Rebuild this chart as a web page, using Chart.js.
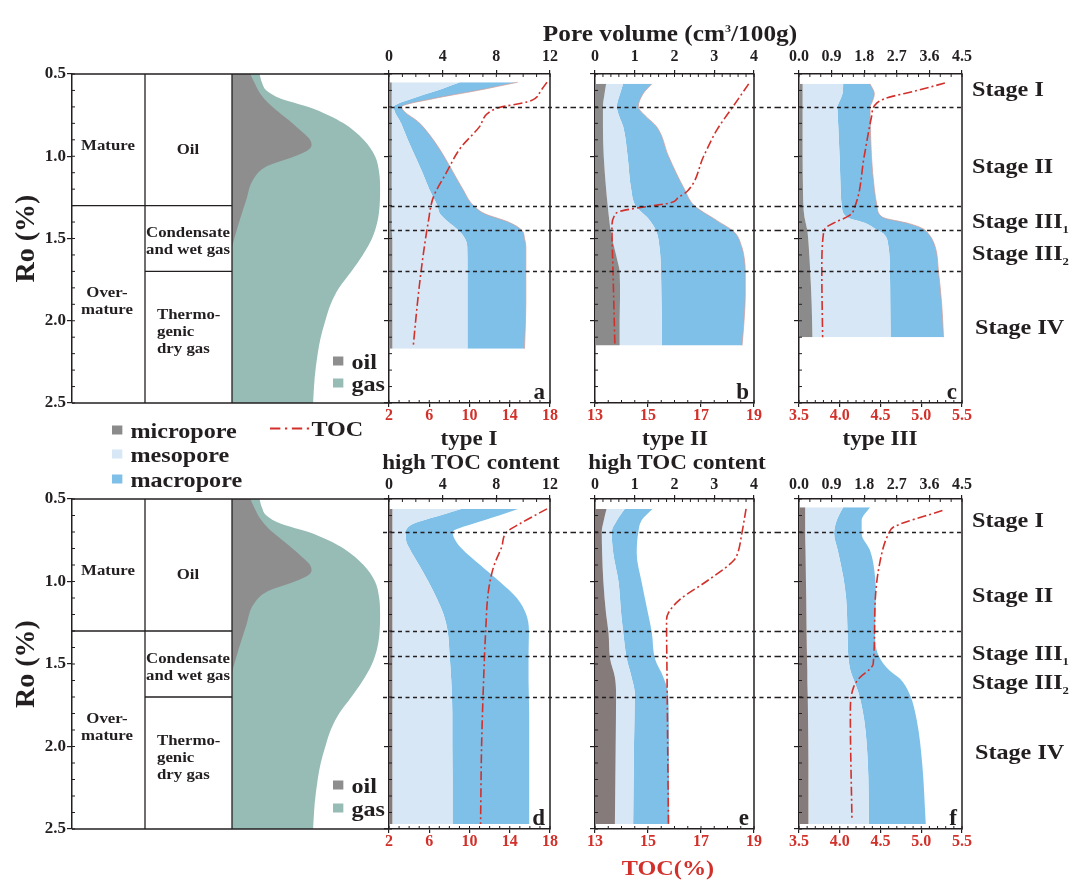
<!DOCTYPE html>
<html>
<head>
<meta charset="utf-8">
<title>Pore evolution with maturity</title>
<script src="https://cdn.jsdelivr.net/npm/chart.js@4.4.1/dist/chart.umd.min.js"></script>
<style>
  html, body { margin: 0; background: #fff; }
  #fig { position: relative; width: 1072px; height: 881px; overflow: hidden; }
  #fig canvas { position: absolute; }
  .lb { position: absolute; white-space: nowrap; color: #231f20; font: bold 21px "Liberation Serif", serif; line-height: 1;
        transform-origin: 0 50%; transform: translateY(-50%) scaleX(1.15); }
  .ct { transform-origin: 50% 50%; transform: translate(-50%, -50%) scaleX(1.1); }
  .lb sub, .lb sup { font-size: 11px; line-height: 0; }
  .sq { display: inline-block; width: 9px; height: 9px; margin-right: 7px; vertical-align: 3px; }
  .red { color: #d2302a; }
</style>
</head>
<body>
<div id="fig">
  <div class="lb ct" style="left:670px;top:33px;font-size:23px;">Pore volume (cm<sup>3</sup>/100g)</div>

  <div class="lb" style="left:112px;top:431px;"><span class="sq" style="background:#8b8b8b"></span>micropore</div>
  <div class="lb" style="left:112px;top:455px;"><span class="sq" style="background:#d8e7f5"></span>mesopore</div>
  <div class="lb" style="left:112px;top:480px;"><span class="sq" style="background:#7ec0e8"></span>macropore</div>
  <div class="lb" style="left:270px;top:429px;"><svg width="36" height="6" style="vertical-align:4px"><line x1="0" y1="3" x2="36" y2="3" stroke="#d2302a" stroke-width="2" stroke-dasharray="9 4 2 4"/></svg>TOC</div>

  <div class="lb ct" style="left:469px;top:438px;">type I</div>
  <div class="lb ct" style="left:471px;top:462px;">high TOC content</div>
  <div class="lb ct" style="left:675px;top:438px;">type II</div>
  <div class="lb ct" style="left:677px;top:462px;">high TOC content</div>
  <div class="lb ct" style="left:880px;top:438px;">type III</div>
  <div class="lb ct red" style="left:668px;top:868px;font-size:22px;">TOC(%)</div>

  <div class="lb" style="left:972px;top:89px;">Stage I</div>
  <div class="lb" style="left:972px;top:166px;">Stage II</div>
  <div class="lb" style="left:972px;top:221px;">Stage III<sub>1</sub></div>
  <div class="lb" style="left:972px;top:253px;">Stage III<sub>2</sub></div>
  <div class="lb" style="left:975px;top:327px;">Stage IV</div>

  <div class="lb" style="left:972px;top:520px;">Stage I</div>
  <div class="lb" style="left:972px;top:595px;">Stage II</div>
  <div class="lb" style="left:972px;top:653px;">Stage III<sub>1</sub></div>
  <div class="lb" style="left:972px;top:682px;">Stage III<sub>2</sub></div>
  <div class="lb" style="left:975px;top:752px;">Stage IV</div>

  <div class="lb" style="left:333px;top:362px;"><span class="sq" style="background:#8e8e8e"></span>oil</div>
  <div class="lb" style="left:333px;top:384px;"><span class="sq" style="background:#97bbb5"></span>gas</div>
  <div class="lb" style="left:333px;top:786px;"><span class="sq" style="background:#8e8e8e"></span>oil</div>
  <div class="lb" style="left:333px;top:809px;"><span class="sq" style="background:#97bbb5"></span>gas</div>
</div>

<script>
// stage boundaries (Ro %)
const stageBounds = [0.7, 1.3, 1.45, 1.7];

// hydrocarbon generation curves (relative amount)
const oilRo  = [0.5, 0.56, 0.62, 0.68, 0.72, 0.78, 0.82, 0.87, 0.9, 0.93, 0.96, 1.0, 1.06, 1.14, 1.26, 1.42, 1.55];
const oilGen = [12, 15, 18.5, 24, 29, 37, 42, 48, 51, 52, 50, 41, 23, 14, 9.5, 4, 0];
const gasRo  = [0.5, 0.55, 0.6, 0.65, 0.7, 0.75, 0.8, 0.9, 1.0, 1.1, 1.2, 1.3, 1.4, 1.5, 1.6, 1.7, 1.8, 1.9, 2.0, 2.1, 2.2, 2.35, 2.5];
const gasGen = [18, 19.5, 22.5, 32, 50, 63, 73, 86, 93.5, 96.2, 96.8, 96.5, 95, 91.5, 85.5, 78, 70, 64.5, 61, 58, 56, 54, 53];

// a: type I, high TOC content (pore volume cm3/100g, TOC %)
const roA    = [0.55, 0.6, 0.65, 0.7, 0.8, 0.9, 1.0, 1.1, 1.2, 1.3, 1.35, 1.4, 1.45, 1.5, 1.55, 1.7, 1.9, 2.17];
const microA = [0.2, 0.2, 0.2, 0.2, 0.2, 0.2, 0.2, 0.2, 0.2, 0.2, 0.2, 0.2, 0.2, 0.25, 0.25, 0.25, 0.25, 0.25];
const mesoA  = [5.1, 3.4, 1.5, 0.15, 0.7, 1.2, 1.75, 2.3, 2.8, 3.4, 3.6, 4.22, 4.97, 5.41, 5.58, 5.6, 5.6, 5.6];
const macroA = [4.3, 3.0, 1.6, 0.6, 1.4, 1.9, 2.15, 2.3, 2.5, 2.7, 3.35, 4.48, 4.73, 4.44, 4.37, 4.35, 4.35, 4.25];
const tocRoA = [0.55, 0.6, 0.65, 0.67, 0.705, 0.74, 0.82, 0.95, 1.1, 1.25, 1.4, 1.6, 1.85, 2.16];
const tocA   = [17.7, 17.1, 16.5, 15.7, 12.9, 11.8, 11.0, 9.1, 7.7, 6.4, 5.9, 5.4, 4.9, 4.4];

// b: type II, high TOC content
const roB    = [0.56, 0.62, 0.7, 0.75, 0.82, 1.0, 1.2, 1.3, 1.39, 1.46, 1.55, 1.63, 1.7, 1.85, 2.0, 2.15];
const microB = [0.28, 0.24, 0.2, 0.2, 0.2, 0.22, 0.28, 0.32, 0.36, 0.4, 0.48, 0.56, 0.62, 0.63, 0.62, 0.62];
const mesoB  = [0.43, 0.39, 0.35, 0.4, 0.51, 0.6, 0.63, 0.7, 1.02, 1.15, 1.14, 1.09, 1.04, 1.04, 1.06, 1.06];
const macroB = [0.72, 0.58, 0.54, 0.65, 0.84, 1.03, 1.34, 1.48, 1.68, 1.95, 2.07, 2.11, 2.12, 2.11, 2.07, 2.02];
const tocRoB = [0.56, 0.7, 0.84, 1.0, 1.21, 1.25, 1.284, 1.315, 1.335, 1.366, 1.43, 1.7, 2.15];
const tocB   = [18.8, 18.2, 17.6, 17.1, 16.5, 16.15, 15.83, 14.57, 13.94, 13.72, 13.64, 13.68, 13.75];

// c: type III
const roC    = [0.56, 0.62, 0.68, 0.7, 0.8, 1.0, 1.2, 1.3, 1.37, 1.41, 1.44, 1.47, 1.55, 1.7, 1.9, 2.1];
const microC = [0.1, 0.1, 0.1, 0.1, 0.1, 0.1, 0.11, 0.12, 0.15, 0.19, 0.22, 0.24, 0.27, 0.31, 0.35, 0.37];
const mesoC  = [1.12, 1.1, 0.99, 0.96, 0.98, 1.02, 1.04, 1.06, 1.17, 1.68, 1.88, 2.09, 2.2, 2.2, 2.17, 2.16];
const macroC = [0.74, 0.88, 0.91, 0.9, 0.89, 0.88, 0.93, 0.97, 0.98, 1.18, 1.32, 1.24, 1.29, 1.34, 1.42, 1.46];
const tocRoC = [0.555, 0.6, 0.65, 0.69, 0.76, 1.0, 1.3, 1.36, 1.4, 1.43, 1.47, 1.7, 2.1];
const tocC   = [5.29, 4.95, 4.55, 4.43, 4.39, 4.3, 4.19, 4.12, 3.95, 3.84, 3.8, 3.78, 3.79];

// d: type I
const roD    = [0.56, 0.6, 0.65, 0.7, 0.75, 0.8, 0.9, 1.0, 1.1, 1.2, 1.3, 1.45, 1.6, 1.8, 2.0, 2.2, 2.47];
const microD = [0.25, 0.25, 0.25, 0.25, 0.25, 0.25, 0.25, 0.25, 0.25, 0.25, 0.25, 0.25, 0.25, 0.25, 0.25, 0.25, 0.25];
const mesoD  = [5.15, 3.55, 1.56, 1.0, 1.02, 1.28, 1.99, 2.68, 3.3, 3.82, 4.12, 4.27, 4.39, 4.47, 4.47, 4.49, 4.49];
const macroD = [4.24, 4.4, 4.45, 3.49, 3.67, 3.89, 4.56, 5.31, 5.98, 6.16, 6.06, 5.88, 5.76, 5.73, 5.73, 5.71, 5.71];
const tocRoD = [0.56, 0.65, 0.7, 0.79, 0.91, 1.05, 1.31, 1.6, 2.0, 2.47];
const tocD   = [17.7, 15.0, 13.7, 13.2, 12.4, 11.9, 11.6, 11.4, 11.2, 11.1];

// e: type II
const roE    = [0.56, 0.63, 0.7, 0.83, 1.0, 1.2, 1.31, 1.47, 1.58, 1.68, 2.0, 2.47];
const microE = [0.29, 0.22, 0.17, 0.18, 0.21, 0.28, 0.34, 0.38, 0.5, 0.53, 0.52, 0.5];
const mesoE  = [0.46, 0.33, 0.25, 0.28, 0.38, 0.38, 0.37, 0.42, 0.42, 0.47, 0.46, 0.46];
const macroE = [0.7, 0.62, 0.67, 0.59, 0.58, 0.68, 0.72, 0.71, 0.8, 0.84, 0.88, 0.91];
const tocRoE = [0.56, 0.71, 0.83, 0.87, 1.0, 1.11, 1.19, 1.23, 1.6, 2.47];
const tocE   = [18.7, 18.54, 18.38, 18.25, 17.2, 16.2, 15.77, 15.7, 15.72, 15.77];

// f: type III
const roF    = [0.55, 0.63, 0.71, 0.81, 0.97, 1.1, 1.31, 1.45, 1.54, 1.59, 1.68, 1.84, 2.1, 2.47];
const microF = [0.17, 0.17, 0.17, 0.18, 0.19, 0.2, 0.21, 0.22, 0.23, 0.23, 0.24, 0.25, 0.26, 0.26];
const mesoF  = [1.05, 0.87, 0.8, 0.89, 1.03, 1.1, 1.13, 1.14, 1.19, 1.27, 1.41, 1.55, 1.64, 1.67];
const macroF = [0.74, 0.69, 0.76, 0.89, 0.88, 0.82, 0.76, 0.84, 1.08, 1.29, 1.4, 1.45, 1.5, 1.57];
const tocRoF = [0.57, 0.67, 0.71, 0.89, 1.19, 1.5, 1.53, 1.58, 1.64, 1.8, 2.45];
const tocF   = [5.26, 4.66, 4.6, 4.49, 4.43, 4.41, 4.37, 4.25, 4.17, 4.13, 4.15];

const INK = '#231f20', RED = '#d2302a';
const MESO = '#d8e7f5', MACRO = '#7ec0e8', OIL = '#8e8e8e', GAS = '#97bbb5';
const SERIF = '"Liberation Serif", "Times New Roman", serif';
const TICK_FONT = { family: SERIF, size: 16, weight: 'bold' };
const GRID = { drawOnChartArea: false, drawTicks: true, tickLength: 4, color: INK, lineWidth: 1.2 };
const BORDER = { display: true, color: INK, width: 1.5 };
const AX_TOP = 30, AX_BOT = 28, AX_Y = 6;

const fig = document.getElementById('fig');
function addCanvas(left, top, width, height) {
  const c = document.createElement('canvas');
  c.width = width; c.height = height;
  c.style.left = left + 'px'; c.style.top = top + 'px';
  fig.insertBefore(c, fig.firstChild);
  return c;
}
const pts = (ys, xs) => ys.map((y, i) => ({ x: xs[i], y }));
const base = { responsive: false, animation: false, events: [], indexAxis: 'y',
  plugins: { legend: { display: false }, tooltip: { enabled: false } } };

// inward minor ticks, right border, stage dashes and the panel letter
function panelDeco(o) {
  return {
    id: 'panelDeco',
    afterDatasetsDraw(chart) {
      const { ctx, chartArea: a, scales } = chart;
      ctx.save();
      ctx.strokeStyle = INK;
      ctx.lineWidth = 1.5;
      ctx.beginPath(); ctx.moveTo(a.right, a.top - 0.75); ctx.lineTo(a.right, a.bottom + 0.75); ctx.stroke();
      ctx.lineWidth = 1;
      o.minor.forEach(([id, step]) => {
        const s = scales[id];
        const n = Math.round((s.max - s.min) / step);
        for (let k = 0; k <= n; k++) {
          const p = s.getPixelForValue(s.min + k * step);
          ctx.beginPath();
          if (id === 'y') { ctx.moveTo(a.left, p); ctx.lineTo(a.left + 3, p); }
          else if (id === 'x') { ctx.moveTo(p, a.top); ctx.lineTo(p, a.top + 3); }
          else { ctx.moveTo(p, a.bottom); ctx.lineTo(p, a.bottom - 3); }
          ctx.stroke();
        }
      });
      ctx.setLineDash([4, 3.5]);
      ctx.lineWidth = 1.3;
      stageBounds.forEach(ro => {
        const p = Math.round(scales.y.getPixelForValue(ro)) + 0.5;
        ctx.beginPath(); ctx.moveTo(a.left - o.dashL, p); ctx.lineTo(a.right + o.dashR, p); ctx.stroke();
      });
      ctx.setLineDash([]);
      ctx.fillStyle = INK;
      ctx.font = 'bold 23px ' + SERIF;
      ctx.textAlign = 'right'; ctx.textBaseline = 'alphabetic';
      ctx.fillText(o.letter, a.right - 5, a.bottom - 4);
      ctx.restore();
    }
  };
}

function area(label, ro, vals, color, fill, edge) {
  return { label, data: pts(ro, vals), xAxisID: 'x', stack: 'pore', fill,
    backgroundColor: color, borderColor: edge || 'rgba(0,0,0,0)', borderWidth: edge ? 0.7 : 0,
    pointRadius: 0, cubicInterpolationMode: 'monotone' };
}

function drawPanel(row, col, d) {
  const left = col.L - AX_Y - col.padL;
  const top = row.T - AX_TOP - 2;
  const cv = addCanvas(left, top, col.R + col.padR - left, row.B + AX_BOT + 2 - top);
  new Chart(cv, {
    type: 'line',
    data: { datasets: [
      area('micropore', d.ro, d.micro, row.micro, 'origin'),
      area('mesopore', d.ro, d.meso, MESO, '-1'),
      area('macropore', d.ro, d.macro, MACRO, '-1', row.edge),
      { label: 'TOC', data: pts(d.tocRo, d.toc), xAxisID: 'x2', order: -1, fill: false,
        borderColor: RED, borderWidth: 1.6, borderDash: [9, 3, 2, 3], pointRadius: 0,
        cubicInterpolationMode: 'monotone' }
    ] },
    options: { ...base,
      layout: { padding: { left: col.padL, right: col.padR, top: 2, bottom: 2 } },
      scales: {
        x: { type: 'linear', position: 'top', min: col.pore[0], max: col.pore[1], stacked: true,
             afterFit: s => { s.height = AX_TOP; },
             ticks: { stepSize: col.pore[2], padding: row.topPad, color: INK, font: TICK_FONT, maxRotation: 0, autoSkip: false,
                      callback: v => col.pore[2] < 1 ? v.toFixed(1) : String(v) },
             grid: GRID, border: BORDER },
        x2: { type: 'linear', position: 'bottom', min: col.toc[0], max: col.toc[1],
             afterFit: s => { s.height = AX_BOT; },
             ticks: { stepSize: col.toc[2], padding: -1, color: RED, font: TICK_FONT, maxRotation: 0, autoSkip: false,
                      callback: v => col.toc[2] < 1 ? v.toFixed(1) : String(v) },
             grid: GRID, border: BORDER },
        y: { type: 'linear', position: 'left', reverse: true, min: 0.5, max: 2.5,
             afterFit: s => { s.width = AX_Y; },
             ticks: { display: false, stepSize: 0.5 },
             grid: { ...GRID, tickLength: 5 }, border: BORDER }
      }
    },
    plugins: [panelDeco({ letter: d.letter, dashL: col.dashL, dashR: col.dashR,
      minor: [['x', col.pore[3]], ['x2', col.toc[3]], ['y', 0.1]] })]
  });
}

// maturity / hydrocarbon-phase table beside the Ro axis
const tableText = [
  { lines: ['Mature'], x: 36, ro: 0.94, align: 'center' },
  { lines: ['Oil'], x: 116, ro: 0.96, align: 'center' },
  { lines: ['Condensate', 'and wet gas'], x: 116, ro: 1.52, align: 'center' },
  { lines: ['Over-', 'mature'], x: 35, ro: 1.885, align: 'center' },
  { lines: ['Thermo-', 'genic', 'dry gas'], x: 85, ro: 2.07, align: 'left' }
];
const tableDeco = {
  id: 'tableDeco',
  afterDraw(chart) {
    const { ctx, chartArea: a, scales: { x, y } } = chart;
    ctx.save();
    ctx.strokeStyle = INK; ctx.lineWidth = 1.3;
    const line = (x1, y1, x2, y2) => { ctx.beginPath(); ctx.moveTo(x1, y1); ctx.lineTo(x2, y2); ctx.stroke(); };
    line(a.left, a.top, a.right, a.top);
    line(a.left, a.bottom, a.right, a.bottom);
    line(x.getPixelForValue(73), a.top, x.getPixelForValue(73), a.bottom);
    line(a.right, a.top, a.right, a.bottom);
    line(a.left, y.getPixelForValue(1.3), a.right, y.getPixelForValue(1.3));
    line(x.getPixelForValue(73), y.getPixelForValue(1.7), a.right, y.getPixelForValue(1.7));
    ctx.lineWidth = 1;
    for (let k = 0; k <= 20; k++) {
      const p = y.getPixelForValue(0.5 + k * 0.1);
      line(a.left, p, a.left + 3, p);
    }
    ctx.fillStyle = INK;
    ctx.font = 'bold 15px ' + SERIF;
    ctx.textBaseline = 'middle';
    tableText.forEach(t => {
      const lh = 17, y0 = y.getPixelForValue(t.ro) - (t.lines.length - 1) * lh / 2;
      ctx.textAlign = t.align;
      t.lines.forEach((s, i) => {
        ctx.save();
        ctx.translate(x.getPixelForValue(t.x), y0 + i * lh);
        ctx.scale(1.12, 1);
        ctx.fillText(s, 0, 0);
        ctx.restore();
      });
    });
    ctx.restore();
  }
};

function drawRoAxis(row) {
  const cv = addCanvas(0, row.T - 14, 240, row.B - row.T + 34);
  new Chart(cv, {
    type: 'line',
    data: { datasets: [] },
    options: { ...base,
      layout: { padding: { left: 0, right: 8, top: 14, bottom: 20 } },
      scales: {
        x: { type: 'linear', display: false, min: 0, max: 160 },
        y: { type: 'linear', position: 'left', reverse: true, min: 0.5, max: 2.5,
             afterFit: s => { s.width = 72; },
             title: { display: true, text: 'Ro (%)', color: INK, font: { family: SERIF, size: 28, weight: 'bold' },
                      padding: { top: 10, bottom: 0 } },
             ticks: { stepSize: 0.5, padding: 1, color: INK, font: { family: SERIF, size: 17, weight: 'bold' },
                      callback: v => v.toFixed(1) },
             grid: { ...GRID, tickLength: 5 }, border: BORDER }
      }
    },
    plugins: [tableDeco]
  });
}

const genFrame = {
  id: 'genFrame',
  afterDraw(chart) {
    const { ctx, chartArea: a } = chart;
    ctx.save();
    ctx.strokeStyle = INK; ctx.lineWidth = 1.3;
    [a.top, a.bottom].forEach(p => { ctx.beginPath(); ctx.moveTo(a.left, p); ctx.lineTo(a.right + 4, p); ctx.stroke(); });
    ctx.restore();
  }
};

function drawGeneration(row) {
  const cv = addCanvas(226, row.T - 14, 170, row.B - row.T + 34);
  new Chart(cv, {
    type: 'line',
    data: { datasets: [
      { label: 'oil', data: pts(oilRo, oilGen), fill: 'origin', backgroundColor: OIL, borderColor: 'rgba(0,0,0,0)',
        borderWidth: 0, pointRadius: 0, cubicInterpolationMode: 'monotone' },
      { label: 'gas', data: pts(gasRo, gasGen), fill: 'origin', backgroundColor: GAS, borderColor: 'rgba(0,0,0,0)',
        borderWidth: 0, pointRadius: 0, cubicInterpolationMode: 'monotone' }
    ] },
    options: { ...base,
      layout: { padding: { left: 6, right: 11, top: 14, bottom: 20 } },
      scales: {
        x: { type: 'linear', display: false, min: 0, max: 100 },
        y: { type: 'linear', display: false, reverse: true, min: 0.5, max: 2.5 }
      }
    },
    plugins: [genFrame]
  });
}

const rows = [
  { T: 74, B: 403, micro: '#8b8b8b', edge: '#d99a90', topPad: 4 },
  { T: 499, B: 829, micro: '#857b7b', edge: null, topPad: 1 }
];
const cols = [
  { L: 389, R: 550, padL: 14, padR: 24, dashL: 6, dashR: 22, pore: [0, 12, 4, 1], toc: [2, 18, 4, 1] },
  { L: 595, R: 754, padL: 20, padR: 24, dashL: 23, dashR: 23, pore: [0, 4, 1, 0.2], toc: [13, 19, 2, 0.5] },
  { L: 799, R: 962, padL: 24, padR: 14, dashL: 22, dashR: 0, pore: [0, 4.5, 0.9, 0.3], toc: [3.5, 5.5, 0.5, 0.1] }
];
const panels = [
  [ { letter: 'a', ro: roA, micro: microA, meso: mesoA, macro: macroA, tocRo: tocRoA, toc: tocA },
    { letter: 'b', ro: roB, micro: microB, meso: mesoB, macro: macroB, tocRo: tocRoB, toc: tocB },
    { letter: 'c', ro: roC, micro: microC, meso: mesoC, macro: macroC, tocRo: tocRoC, toc: tocC } ],
  [ { letter: 'd', ro: roD, micro: microD, meso: mesoD, macro: macroD, tocRo: tocRoD, toc: tocD },
    { letter: 'e', ro: roE, micro: microE, meso: mesoE, macro: macroE, tocRo: tocRoE, toc: tocE },
    { letter: 'f', ro: roF, micro: microF, meso: mesoF, macro: macroF, tocRo: tocRoF, toc: tocF } ]
];

rows.forEach((row, r) => {
  drawRoAxis(row);
  drawGeneration(row);
  cols.forEach((col, c) => drawPanel(row, col, panels[r][c]));
});
</script>
</body>
</html>
